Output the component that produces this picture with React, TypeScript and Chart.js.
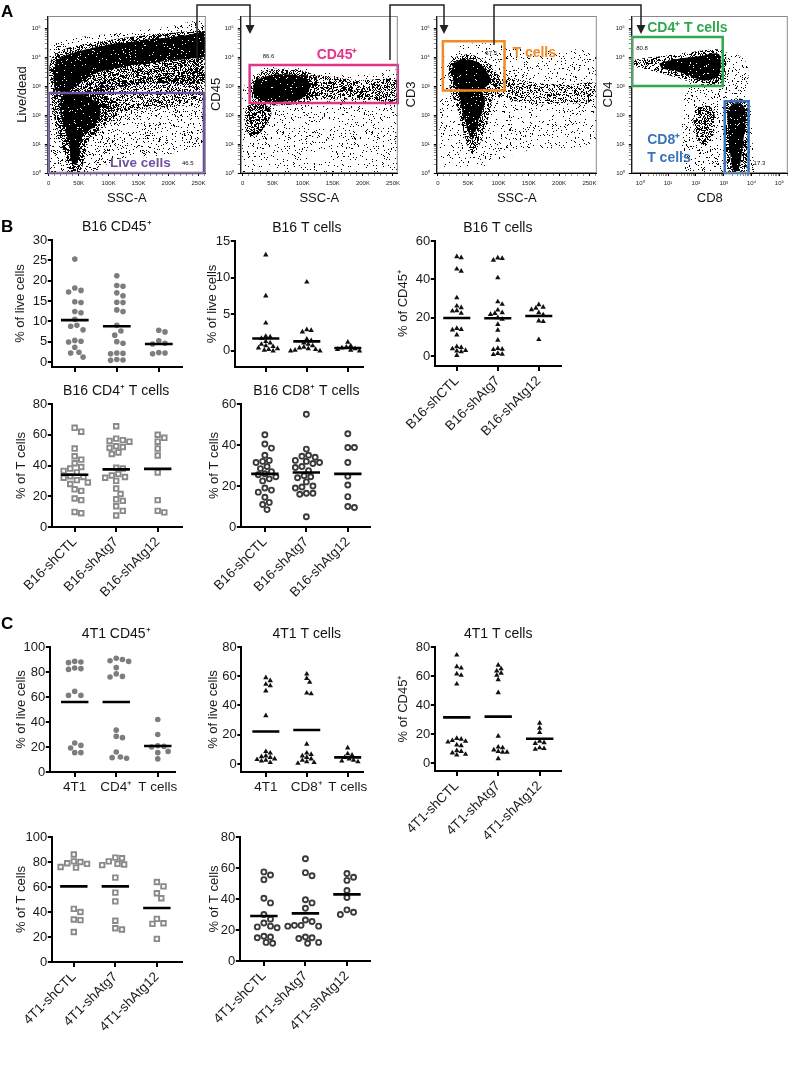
import React, { useEffect, useRef } from "react";
import { Chart, registerables } from "chart.js";

Chart.register(...registerables);

const FONT = '"Liberation Sans", Arial, Helvetica, sans-serif';
Chart.defaults.font.family = FONT;

type Pt = [number, number];

// ================= Panel A : flow cytometry (data units: SSC-A linear, fluorescence log) =================
// Plot 1 : Live/dead vs SSC-A
const f1Sparse: Pt[] = [[2000, 1], [2000, 17400], [29000, 39000], [113000, 66000], [196000, 110000], [262000, 150000], [262000, 14], [229000, 6.2], [168000, 3.6], [113000, 2.8], [74000, 1]];
const f1DeadMedium: Pt[] = [[2000, 2100], [2000, 6000], [13000, 13500], [40000, 23000], [85000, 34000], [140000, 50000], [196000, 66000], [240000, 80000], [262000, 85000], [262000, 1600], [229000, 1230], [185000, 1230], [140000, 1080], [107000, 720], [85000, 430], [63000, 330], [40000, 330], [18000, 430], [4000, 720]];
const f1GateBand: Pt[] = [[74000, 950], [140000, 1600], [196000, 2400], [262000, 4000], [262000, 330], [196000, 195], [140000, 150], [96000, 115], [74000, 195]];
const f1LiveMedium: Pt[] = [[7000, 430], [29000, 720], [63000, 720], [96000, 430], [118000, 195], [107000, 67], [85000, 30], [68000, 14], [60000, 3.6], [52000, 1.1], [37000, 1.1], [27000, 3.6], [18000, 18], [10000, 67], [4000, 195]];
const f1DeadDense: Pt[] = [[7000, 3550], [15000, 7900], [29000, 11700], [57000, 17400], [85000, 23000], [113000, 30000], [140000, 34000], [168000, 41000], [196000, 47000], [229000, 57000], [262000, 66000], [262000, 11700], [240000, 9000], [207000, 7900], [168000, 6000], [140000, 5300], [113000, 4000], [85000, 3100], [63000, 1850], [46000, 950], [29000, 640], [10000, 720]];
const f1LiveDense: Pt[] = [[21000, 430], [37000, 560], [57000, 490], [74000, 330], [85000, 195], [85000, 87], [77000, 40], [63000, 26], [54000, 14], [52000, 4.8], [45000, 1.9], [37000, 2.8], [35000, 8], [29000, 23], [22000, 67], [18000, 195]];
const liveGate = [0, 259000, 1, 580];

// Plot 2 : CD45 vs SSC-A
const f2Sparse: Pt[] = [[0, 1], [0, 560], [18000, 2750], [50000, 4600], [123000, 3550], [206000, 2400], [258000, 3100], [258000, 1]];
const f2NegCloud: Pt[] = [[6000, 195], [23000, 290], [40000, 220], [48000, 115], [40000, 51], [28000, 23], [14000, 18], [6000, 30], [3000, 87]];
const f2Tail: Pt[] = [[95000, 2400], [140000, 2200], [195000, 1600], [258000, 1600], [258000, 330], [206000, 330], [150000, 350], [107000, 330]];
const f2Halo: Pt[] = [[9000, 720], [20000, 2100], [40000, 3550], [78000, 4000], [107000, 3100], [123000, 1850], [123000, 430], [95000, 250], [40000, 220], [18000, 330]];
const f2Dense: Pt[] = [[17000, 720], [21000, 1400], [37000, 2100], [57000, 2500], [78000, 2500], [95000, 2200], [107000, 1600], [112000, 950], [105000, 490], [92000, 330], [67000, 290], [40000, 290], [21000, 380]];
const cd45Gate = [11700, 258000, 260, 5300];

// Plot 3 : CD3 vs SSC-A
const f3Sparse: Pt[] = [[4000, 1.65], [4000, 4600], [23000, 17400], [67000, 30000], [151000, 17400], [262000, 10200], [262000, 14], [151000, 6.2], [73000, 1.65]];
const f3Tail: Pt[] = [[90000, 2750], [151000, 1400], [206000, 1080], [262000, 1230], [262000, 330], [206000, 250], [151000, 250], [95000, 430]];
const f3Halo: Pt[] = [[17000, 2750], [23000, 7900], [40000, 11700], [67000, 10200], [90000, 4600], [101000, 1600], [90000, 330], [84000, 87], [76000, 23], [67000, 8], [56000, 4.8], [48000, 10.5], [40000, 40], [31000, 195], [20000, 720]];
const f3DenseT: Pt[] = [[22000, 3100], [27000, 6000], [40000, 8600], [56000, 7900], [70000, 5800], [81000, 3100], [87000, 1600], [78000, 900], [62000, 640], [40000, 690], [27000, 1080]];
const f3DenseNeg: Pt[] = [[37000, 720], [67000, 760], [77000, 430], [75000, 150], [67000, 67], [62000, 26], [57000, 14], [52000, 20], [46000, 51], [40000, 150], [35000, 380]];
const tGate = [8300, 110000, 700, 35000];

// Plot 4 : CD4 vs CD8
const f4Sparse: Pt[] = [[40, 1], [30, 23], [53, 950], [830, 13500], [5600, 7900], [8100, 950], [12800, 1]];
const f4Cd4Halo: Pt[] = [[0.57, 7900], [1.97, 9600], [10.2, 11700], [92, 15500], [480, 18500], [1090, 15500], [1200, 3550], [950, 1400], [210, 1080], [40, 1600], [5.9, 2750], [0.57, 4600]];
const f4DnCloud: Pt[] = [[92, 150], [210, 220], [420, 150], [480, 40], [365, 14], [185, 9], [105, 18], [80, 51]];
const f4Cd8Halo: Pt[] = [[1260, 290], [3240, 380], [7400, 250], [8800, 40], [7400, 6.2], [5600, 1.1], [1640, 1.1], [1150, 8], [1000, 67]];
const f4Cd4Dense: Pt[] = [[4.8, 6000], [13.5, 7900], [53, 9600], [210, 11700], [480, 13500], [720, 11700], [780, 4600], [670, 2400], [365, 1700], [160, 1600], [70, 2100], [23, 3100], [5.9, 4000]];
const f4Cd8Dense: Pt[] = [[1640, 195], [2460, 250], [4300, 240], [5900, 150], [5900, 40], [4900, 10.5], [4300, 3.6], [3450, 1.4], [2460, 1.1], [1870, 2.2], [1640, 8], [1420, 40], [1340, 115]];
const cd4Gate = [0.52, 920, 1000, 49000];
const cd8Gate = [1090, 7800, 1, 300];

// ================= Panels B / C : dot plots =================
const b16Groups = ["B16-shCTL", "B16-shAtg7", "B16-shAtg12"];
const t41Groups = ["4T1-shCTL", "4T1-shAtg7", "4T1-shAtg12"];
const c1Labels = ["4T1", "CD4⁺", "T cells"];
const c2Labels = ["4T1", "CD8⁺", "T cells"];
const noLabels = ["", "", ""];

// B16 CD45+ (% of live cells)
const b16Cd45Ctl = [25.3, 18.2, 17.6, 17.2, 14.8, 14.6, 12.4, 12.1, 10.5, 9.0, 8.8, 7.9, 5.3, 5.1, 4.9, 3.6, 2.4, 2.2, 1.2];
const b16Cd45Atg7 = [21.2, 18.8, 18.6, 17.0, 16.3, 14.7, 14.6, 12.8, 12.4, 9.0, 7.6, 6.6, 5.0, 4.6, 2.2, 2.1, 2.0, 0.6, 0.5, 0.4];
const b16Cd45Atg12 = [7.8, 7.4, 5.2, 4.6, 4.4, 2.3, 2.2, 2.0];
const b16Cd45Means = [10.3, 8.8, 4.4];

// B16 T cells (% of live cells)
const b16TLiveCtl = [13.1, 7.5, 3.8, 2.0, 1.9, 1.7, 1.3, 1.1, 0.9, 0.7, 0.6, 0.4, 0.3, 0.2, 0.1, 0.0];
const b16TLiveAtg7 = [9.4, 2.9, 2.8, 2.6, 1.6, 1.4, 1.1, 0.9, 0.7, 0.5, 0.4, 0.3, 0.2, 0.1, 0.0, 0.0];
const b16TLiveAtg12 = [1.2, 0.7, 0.5, 0.4, 0.3, 0.2, 0.1, 0.0];
const b16TLiveMeans = [1.7, 1.3, 0.4];

// B16 T cells (% of CD45+)
const b16TCd45Ctl = [51.8, 51.3, 45.4, 44.3, 30.4, 26.1, 25.2, 23.7, 23.5, 22.3, 14.4, 13.9, 13.6, 11.0, 4.9, 4.5, 3.8, 2.9, 2.6, 2.2, 0.3];
const b16TCd45Atg7 = [51.2, 50.9, 50.0, 40.8, 28.3, 27.0, 24.0, 22.6, 22.2, 21.7, 20.0, 19.2, 16.5, 13.5, 8.3, 4.0, 3.6, 3.4, 1.4, 1.0, 0.8];
const b16TCd45Atg12 = [26.8, 25.5, 25.0, 24.2, 22.6, 21.5, 18.3, 18.0, 8.6];
const b16TCd45Means = [19.8, 19.7, 20.9];

// B16 CD4+ T cells (% of T cells)
const b16Cd4Ctl = [64.5, 62.0, 51.0, 46.0, 43.8, 41.5, 39.0, 38.0, 36.5, 35.5, 33.0, 32.5, 32.0, 30.5, 29.0, 28.0, 24.5, 23.5, 18.5, 17.5, 9.8, 9.0];
const b16Cd4Atg7 = [65.5, 57.5, 56.5, 56.0, 55.5, 52.5, 52.0, 51.5, 48.5, 47.5, 38.5, 38.0, 34.5, 33.5, 32.5, 32.0, 30.0, 25.0, 21.5, 18.0, 17.0, 13.5, 10.5, 7.5];
const b16Cd4Atg12 = [60.0, 58.0, 55.5, 51.0, 46.5, 35.5, 17.5, 10.5, 9.5];
const b16Cd4Means = [34.0, 37.5, 37.8];

// B16 CD8+ T cells (% of T cells)
const b16Cd8Ctl = [45.0, 40.5, 38.5, 35.0, 32.5, 32.0, 31.5, 29.5, 28.5, 27.0, 26.0, 25.5, 24.5, 23.5, 22.5, 19.0, 18.0, 17.0, 14.5, 12.0, 11.0, 8.5];
const b16Cd8Atg7 = [55.0, 38.0, 35.0, 34.5, 34.0, 32.5, 32.0, 31.5, 31.0, 29.5, 29.0, 27.5, 25.0, 24.5, 24.0, 22.0, 20.0, 19.5, 19.0, 16.5, 16.5, 16.0, 5.0];
const b16Cd8Atg12 = [45.5, 38.8, 38.8, 31.5, 24.8, 20.5, 14.8, 10.0, 9.5];
const b16Cd8Means = [25.9, 26.6, 25.9];

// 4T1 CD45+ (% of live cells)
const t41Cd45Ctl = [88.5, 88.0, 87.5, 83.2, 82.7, 82.1, 64.5, 61.3, 61.3, 23.2, 21.3, 19.2, 15.5, 15.5];
const t41Cd45Atg7 = [91.0, 90.0, 89.0, 88.5, 83.5, 78.5, 76.5, 76.0, 33.5, 28.5, 27.5, 16.0, 12.0, 11.5, 11.0];
const t41Cd45Atg12 = [42.0, 30.0, 21.0, 20.5, 20.0, 16.5, 15.5, 10.5];
const t41Cd45Means = [56.0, 56.0, 20.8];

// 4T1 T cells (% of live cells)
const t41TLiveCtl = [59.0, 57.0, 54.5, 53.5, 50.0, 33.0, 8.5, 7.5, 5.5, 5.0, 4.5, 3.5, 3.0, 2.5, 2.0, 1.0];
const t41TLiveAtg7 = [61.5, 58.5, 56.0, 48.5, 48.0, 13.5, 7.5, 6.5, 5.5, 4.5, 3.5, 2.5, 1.5, 1.0, 0.5];
const t41TLiveAtg12 = [11.0, 7.0, 6.0, 4.5, 3.5, 2.5, 2.0, 1.5];
const t41TLiveMeans = [22.2, 23.2, 4.5];

// 4T1 T cells (% of CD45+)
const t41TCd45Ctl = [74.5, 66.5, 65.5, 61.5, 60.5, 54.5, 17.0, 16.5, 15.5, 15.0, 14.5, 12.5, 12.0, 8.5, 8.0, 7.0, 6.0, 5.5];
const t41TCd45Atg7 = [67.5, 65.0, 63.5, 62.0, 60.5, 57.5, 48.5, 18.5, 11.0, 10.5, 9.0, 8.0, 7.5, 7.5, 3.0];
const t41TCd45Atg12 = [27.5, 24.0, 21.0, 15.0, 14.0, 13.5, 10.5, 10.0, 9.5];
const t41TCd45Means = [31.5, 32.0, 16.7];

// 4T1 CD4+ T cells (% of T cells)
const t41Cd4Ctl = [86.0, 80.5, 80.0, 79.0, 78.5, 76.0, 75.5, 42.5, 40.0, 34.0, 33.5, 24.0];
const t41Cd4Atg7 = [83.5, 83.0, 80.5, 78.5, 78.0, 77.5, 67.5, 55.5, 48.5, 33.0, 27.0, 26.0];
const t41Cd4Atg12 = [64.0, 60.5, 55.0, 51.0, 34.5, 31.0, 30.5, 18.5];
const t41Cd4Means = [60.5, 60.5, 43.2];

// 4T1 CD8+ T cells (% of T cells)
const t41Cd8Ctl = [57.5, 55.5, 52.5, 40.5, 37.5, 30.0, 27.0, 24.5, 22.5, 22.0, 21.5, 16.0, 15.5, 15.0, 12.0, 11.5];
const t41Cd8Atg7 = [66.0, 57.0, 55.0, 39.5, 37.5, 34.0, 26.5, 25.5, 23.0, 23.0, 22.5, 22.5, 15.5, 15.0, 14.5, 12.0, 11.5];
const t41Cd8Atg12 = [56.5, 54.0, 52.0, 45.5, 41.0, 33.0, 31.5, 30.0];
const t41Cd8Means = [29.0, 30.7, 43.0];

// ================= styles =================
const PURPLE = "#6f4f9e";
const PINK = "#e2358a";
const ORANGE = "#f48a24";
const GREEN = "#2fa84f";
const BLUE = "#3a74bd";

const SUP = "⁰¹²³⁴⁵⁶⁷⁸⁹";
const sup = (n: number) => String(n).split("").map((d) => SUP[+d]).join("");

function hashPattern(density: number, seed: number): CanvasPattern | string {
  if (density >= 1) return "#000";
  const n = 89;
  const c = document.createElement("canvas");
  c.width = n;
  c.height = n;
  const g = c.getContext("2d")!;
  const img = g.createImageData(n, n);
  for (let i = 0; i < n * n; i++) {
    let h = Math.imul(i + 1, 0x9e3779b1) ^ Math.imul(seed + 7, 0x85ebca6b);
    h ^= h >>> 15;
    h = Math.imul(h, 0x2c1b3c6d);
    h ^= h >>> 12;
    h = Math.imul(h, 0x297a2d39);
    h ^= h >>> 15;
    const u = (h >>> 0) / 4294967296;
    img.data[i * 4 + 3] = u < density ? 255 : 0;
  }
  g.putImageData(img, 0, 0);
  return g.createPattern(c, "repeat")!;
}

type Layer = { poly: Pt[]; density: number };
type Gate = { rect: number[]; color: string };
type Lab = { text: string; x: number; y: number; color?: string; size: number; bold?: boolean; align?: CanvasTextAlign };
type FlowSpec = {
  l: number; t: number; r: number; b: number;
  yTitleX: number; xTitleY: number;
  xLog: boolean; xMin: number; xMax: number;
  xTitle: string; yTitle: string;
  layers: Layer[]; gates: Gate[]; labels: Lab[];
};

function logTicks(min: number, max: number) {
  const out: any[] = [];
  for (let e = 0; e <= 5; e++) {
    for (let m = 1; m <= 9; m++) {
      const v = m * Math.pow(10, e);
      if (v >= min && v <= max) out.push({ value: v, major: m === 1, exp: e });
    }
  }
  return out;
}
function linTicks(max: number) {
  const out: any[] = [];
  for (let v = 0; v <= max; v += 10000) out.push({ value: v, major: v % 50000 === 0 });
  return out;
}

const flowSpecs: FlowSpec[] = [
  {
    l: 48, t: 16, r: 206, b: 173, yTitleX: 23, xTitleY: 198, xLog: false, xMin: -1500, xMax: 262144,
    xTitle: "SSC-A", yTitle: "Live/dead",
    layers: [
      { poly: f1Sparse, density: 0.11 }, { poly: f1DeadMedium, density: 0.45 }, { poly: f1GateBand, density: 0.3 },
      { poly: f1LiveMedium, density: 0.5 }, { poly: f1DeadDense, density: 0.92 }, { poly: f1LiveDense, density: 0.93 },
    ],
    gates: [{ rect: liveGate, color: PURPLE }],
    labels: [
      { text: "Live cells", x: 153000, y: 2.2, color: PURPLE, size: 13.5, bold: true },
      { text: "46.5", x: 232000, y: 2.2, size: 6 },
    ],
  },
  {
    l: 241, t: 16, r: 398, b: 173, yTitleX: 217, xTitleY: 198, xLog: false, xMin: -3000, xMax: 258000,
    xTitle: "SSC-A", yTitle: "CD45",
    layers: [
      { poly: f2Sparse, density: 0.06 }, { poly: f2NegCloud, density: 0.55 }, { poly: f2Tail, density: 0.4 },
      { poly: f2Halo, density: 0.45 }, { poly: f2Dense, density: 0.95 },
    ],
    gates: [{ rect: cd45Gate, color: PINK }],
    labels: [
      { text: "86.6", x: 43000, y: 11000, size: 6 },
      { text: "CD45⁺", x: 157000, y: 11700, color: PINK, size: 14, bold: true },
    ],
  },
  {
    l: 437, t: 16, r: 597, b: 173, yTitleX: 412, xTitleY: 198, xLog: false, xMin: -1700, xMax: 262144,
    xTitle: "SSC-A", yTitle: "CD3",
    layers: [
      { poly: f3Sparse, density: 0.07 }, { poly: f3Tail, density: 0.3 }, { poly: f3Halo, density: 0.45 },
      { poly: f3DenseT, density: 0.95 }, { poly: f3DenseNeg, density: 0.92 },
    ],
    gates: [{ rect: tGate, color: ORANGE }],
    labels: [
      { text: "67.5", x: 88000, y: 13500, size: 6 },
      { text: "T cells", x: 159000, y: 13500, color: ORANGE, size: 14, bold: true },
    ],
  },
  {
    l: 632, t: 16, r: 788, b: 173, yTitleX: 609, xTitleY: 198, xLog: true, xMin: 0.5, xMax: 200000,
    xTitle: "CD8", yTitle: "CD4",
    layers: [
      { poly: f4Sparse, density: 0.08 }, { poly: f4Cd4Halo, density: 0.4 }, { poly: f4DnCloud, density: 0.45 },
      { poly: f4Cd8Halo, density: 0.45 }, { poly: f4Cd4Dense, density: 0.95 }, { poly: f4Cd8Dense, density: 0.95 },
    ],
    gates: [{ rect: cd4Gate, color: GREEN }, { rect: cd8Gate, color: BLUE }],
    labels: [
      { text: "80.8", x: 0.72, y: 20000, size: 6, align: "left" },
      { text: "CD4⁺ T cells", x: 1.78, y: 98000, color: GREEN, size: 14, bold: true, align: "left" },
      { text: "CD8⁺", x: 1.78, y: 14, color: BLUE, size: 14, bold: true, align: "left" },
      { text: "T cells", x: 1.78, y: 3.3, color: BLUE, size: 14, bold: true, align: "left" },
      { text: "17.3", x: 11800, y: 2.2, size: 6, align: "left" },
    ],
  },
];

function flowBox(s: FlowSpec) {
  const left = s.yTitleX - 7.8;
  const top = s.t - 6;
  const right = s.r + 6;
  const bottom = s.xTitleY + 7.8;
  return { left, top, width: Math.round(right - left), height: Math.round(bottom - top) };
}

function buildFlow(canvas: HTMLCanvasElement, s: FlowSpec): Chart {
  const box = flowBox(s);
  const datasets: any[] = [];
  s.layers.forEach((ly, i) => {
    datasets.push({
      type: "line",
      data: ly.poly.map(([x, y]) => ({ x, y })),
      showLine: true,
      fill: "shape",
      backgroundColor: hashPattern(ly.density, i * 31 + s.l),
      borderColor: "rgba(0,0,0,0)",
      borderWidth: 0,
      pointRadius: 0,
      tension: 0.35,
      order: 100 - i,
    });
  });
  s.gates.forEach((g) => {
    const [x0, x1, y0, y1] = g.rect;
    datasets.push({
      type: "line",
      data: [{ x: x0, y: y0 }, { x: x1, y: y0 }, { x: x1, y: y1 }, { x: x0, y: y1 }, { x: x0, y: y0 }],
      showLine: true,
      fill: false,
      borderColor: g.color,
      borderWidth: 2.5,
      borderCapStyle: "square",
      pointRadius: 0,
      tension: 0,
      clip: false,
      order: 0,
    });
  });
  const tickGrid = {
    display: true,
    drawOnChartArea: false,
    tickLength: 3,
    color: (c: any) => (c.tick && c.tick.major ? "#000" : "#444"),
    lineWidth: (c: any) => (c.tick && c.tick.major ? 1 : 0.6),
  };
  const frame = {
    id: "frame",
    afterDatasetsDraw(chart: any) {
      const { ctx, chartArea: a } = chart;
      ctx.save();
      ctx.strokeStyle = "#8a8a8a";
      ctx.lineWidth = 1;
      ctx.strokeRect(a.left + 0.5, a.top + 0.5, a.right - a.left - 1, a.bottom - a.top - 1);
      ctx.restore();
    },
  };
  const labels = {
    id: "gateLabels",
    afterDatasetsDraw(chart: any) {
      const { ctx } = chart;
      const xs = chart.scales.x, ys = chart.scales.y;
      ctx.save();
      s.labels.forEach((lb) => {
        ctx.font = `${lb.bold ? "bold " : ""}${lb.size}px ${FONT}`;
        ctx.fillStyle = lb.color || "#111";
        ctx.textAlign = lb.align || "center";
        ctx.textBaseline = "middle";
        ctx.fillText(lb.text, xs.getPixelForValue(lb.x), ys.getPixelForValue(lb.y));
      });
      ctx.restore();
    },
  };
  return new Chart(canvas, {
    type: "scatter",
    data: { datasets },
    options: {
      responsive: false,
      animation: false,
      devicePixelRatio: 1,
      events: [],
      layout: { padding: { top: s.t - box.top, right: box.left + box.width - s.r, left: 0, bottom: 0 } },
      plugins: { legend: { display: false }, tooltip: { enabled: false } },
      scales: {
        x: {
          type: s.xLog ? "logarithmic" : "linear",
          min: s.xMin,
          max: s.xMax,
          afterBuildTicks: (sc: any) => {
            sc.ticks = s.xLog ? logTicks(s.xMin, s.xMax) : linTicks(s.xMax);
          },
          afterFit: (sc: any) => {
            sc.height = box.top + box.height - s.b;
            sc.paddingLeft = 0;
            sc.paddingRight = 0;
          },
          ticks: {
            autoSkip: false,
            maxRotation: 0,
            minRotation: 0,
            padding: 4,
            color: "#222",
            font: { size: 6, family: FONT },
            callback: function (v: any, i: number, ticks: any[]) {
              const t = ticks[i];
              if (!t || !t.major) return "";
              if (s.xLog) return "10" + sup(t.exp);
              return v === 0 ? "0" : Math.round(v / 1000) + "K";
            },
          },
          grid: tickGrid,
          border: { display: true, color: "#000", width: 1 },
          title: { display: true, text: s.xTitle, color: "#111", font: { size: 13, family: FONT }, padding: 0 },
        },
        y: {
          type: "logarithmic",
          min: 1,
          max: 262144,
          afterBuildTicks: (sc: any) => {
            sc.ticks = logTicks(1, 262144);
          },
          afterFit: (sc: any) => {
            sc.width = s.l - box.left;
            sc.paddingTop = 0;
            sc.paddingBottom = 0;
          },
          ticks: {
            autoSkip: false,
            padding: 4,
            color: "#222",
            font: { size: 6, family: FONT },
            callback: function (v: any, i: number, ticks: any[]) {
              const t = ticks[i];
              return t && t.major ? "10" + sup(t.exp) : "";
            },
          },
          grid: tickGrid,
          border: { display: true, color: "#000", width: 1 },
          title: { display: true, text: s.yTitle, color: "#111", font: { size: 13, family: FONT }, padding: 0 },
        },
      },
    } as any,
    plugins: [frame, labels],
  } as any);
}

// ================= dot plots =================
type Marker = "gray" | "tri" | "sq" | "circ";
type DotSpec = {
  l: number; t: number; r: number; b: number;
  yMin: number; yMax: number; step: number;
  xMin: number; xMax: number;
  yTitleX: number; bottom: number;
  title?: string; yTitle: string;
  xLabels: string[]; rotate: boolean;
  groups: number[][]; means: number[];
  marker: Marker;
};

const dotSpecs: DotSpec[] = [
  { l: 52, t: 240, r: 182, b: 367, yMin: -1.24, yMax: 30, step: 5, xMin: -0.548, xMax: 2.548, yTitleX: 21, bottom: 378, title: "B16 CD45⁺", yTitle: "% of live cells", xLabels: noLabels, rotate: false, groups: [b16Cd45Ctl, b16Cd45Atg7, b16Cd45Atg12], means: b16Cd45Means, marker: "gray" },
  { l: 235, t: 241, r: 363, b: 367, yMin: -2.2, yMax: 15, step: 5, xMin: -0.756, xMax: 2.366, yTitleX: 213, bottom: 378, title: "B16 T cells", yTitle: "% of live cells", xLabels: noLabels, rotate: false, groups: [b16TLiveCtl, b16TLiveAtg7, b16TLiveAtg12], means: b16TLiveMeans, marker: "tri" },
  { l: 435, t: 241, r: 561, b: 366, yMin: -5.2, yMax: 60, step: 20, xMin: -0.537, xMax: 2.537, yTitleX: 404, bottom: 450, title: "B16 T cells", yTitle: "% of CD45⁺", xLabels: b16Groups, rotate: true, groups: [b16TCd45Ctl, b16TCd45Atg7, b16TCd45Atg12], means: b16TCd45Means, marker: "tri" },
  { l: 52, t: 404, r: 182, b: 527, yMin: 0, yMax: 80, step: 20, xMin: -0.55, xMax: 2.58, yTitleX: 22, bottom: 612, title: "B16 CD4⁺ T cells", yTitle: "% of T cells", xLabels: b16Groups, rotate: true, groups: [b16Cd4Ctl, b16Cd4Atg7, b16Cd4Atg12], means: b16Cd4Means, marker: "sq" },
  { l: 241, t: 404, r: 370, b: 527, yMin: 0, yMax: 60, step: 20, xMin: -0.58, xMax: 2.53, yTitleX: 215, bottom: 612, title: "B16 CD8⁺ T cells", yTitle: "% of T cells", xLabels: b16Groups, rotate: true, groups: [b16Cd8Ctl, b16Cd8Atg7, b16Cd8Atg12], means: b16Cd8Means, marker: "circ" },
  { l: 50, t: 647, r: 175, b: 772, yMin: 0, yMax: 100, step: 20, xMin: -0.6, xMax: 2.41, yTitleX: 22, bottom: 800, title: "4T1 CD45⁺", yTitle: "% of live cells", xLabels: c1Labels, rotate: false, groups: [t41Cd45Ctl, t41Cd45Atg7, t41Cd45Atg12], means: t41Cd45Means, marker: "gray" },
  { l: 241.5, t: 647, r: 363, b: 772, yMin: -5.5, yMax: 80, step: 20, xMin: -0.6, xMax: 2.37, yTitleX: 214, bottom: 800, title: "4T1 T cells", yTitle: "% of live cells", xLabels: c2Labels, rotate: false, groups: [t41TLiveCtl, t41TLiveAtg7, t41TLiveAtg12], means: t41TLiveMeans, marker: "tri" },
  { l: 435, t: 647, r: 561, b: 771, yMin: -5.5, yMax: 80, step: 20, xMin: -0.53, xMax: 2.51, yTitleX: 404, bottom: 857, title: "4T1 T cells", yTitle: "% of CD45⁺", xLabels: t41Groups, rotate: true, groups: [t41TCd45Ctl, t41TCd45Atg7, t41TCd45Atg12], means: t41TCd45Means, marker: "tri" },
  { l: 52, t: 837, r: 182, b: 962, yMin: 0, yMax: 100, step: 20, xMin: -0.53, xMax: 2.6, yTitleX: 22, bottom: 1047, yTitle: "% of T cells", xLabels: t41Groups, rotate: true, groups: [t41Cd4Ctl, t41Cd4Atg7, t41Cd4Atg12], means: t41Cd4Means, marker: "sq" },
  { l: 240, t: 837, r: 370, b: 961, yMin: 0, yMax: 80, step: 20, xMin: -0.58, xMax: 2.55, yTitleX: 215, bottom: 1047, yTitle: "% of T cells", xLabels: t41Groups, rotate: true, groups: [t41Cd8Ctl, t41Cd8Atg7, t41Cd8Atg12], means: t41Cd8Means, marker: "circ" },
];

const markerStyle: Record<Marker, any> = {
  gray: { pointStyle: "circle", pointRadius: 2.8, backgroundColor: "#7d7d7d", borderColor: "#7d7d7d", borderWidth: 0 },
  tri: { pointStyle: "triangle", pointRadius: 3.1, backgroundColor: "#111", borderColor: "#111", borderWidth: 0 },
  sq: { pointStyle: "rect", pointRadius: 3.2, backgroundColor: "rgba(255,255,255,0)", borderColor: "#8a8a8a", borderWidth: 1.9 },
  circ: { pointStyle: "circle", pointRadius: 2.5, backgroundColor: "rgba(255,255,255,0)", borderColor: "#3b3b3b", borderWidth: 1.9 },
};
const markerDiam: Record<Marker, number> = { gray: 6.2, tri: 4.4, sq: 6.6, circ: 6.6 };

function dotBox(s: DotSpec) {
  const left = s.yTitleX - 7.8;
  const top = s.t - 32;
  const right = s.r + 12;
  return { left, top, width: Math.round(right - left), height: Math.round(s.bottom - top) };
}

function swarm(chart: Chart, groups: number[][], diam: number) {
  const xs: any = chart.scales.x, ys: any = chart.scales.y;
  const unit = xs.getPixelForValue(1) - xs.getPixelForValue(0);
  groups.forEach((vals, gi) => {
    const order = vals.map((_, i) => i).sort((a, b) => vals[b] - vals[a]);
    const placed: { dx: number; py: number }[] = [];
    const xOut: number[] = vals.map(() => gi);
    order.forEach((i) => {
      const py = ys.getPixelForValue(vals[i]);
      let dx = 0;
      for (let k = 0; k < 80; k++) {
        const c = k === 0 ? 0 : (k % 2 === 1 ? 1 : -1) * Math.ceil(k / 2) * (diam / 3);
        if (placed.every((p) => (p.dx - c) * (p.dx - c) + (p.py - py) * (p.py - py) >= diam * diam * 0.97)) {
          dx = c;
          break;
        }
      }
      placed.push({ dx, py });
      xOut[i] = gi + dx / unit;
    });
    (chart.data.datasets[gi] as any).data = vals.map((v, i) => ({ x: xOut[i], y: v }));
  });
  chart.update();
}

function buildDot(canvas: HTMLCanvasElement, s: DotSpec): Chart {
  const box = dotBox(s);
  const ms = markerStyle[s.marker];
  const datasets: any[] = s.groups.map((vals, gi) => ({
    data: vals.map((v) => ({ x: gi, y: v })),
    ...ms,
    order: 1,
  }));
  s.means.forEach((m, gi) => {
    datasets.push({
      type: "line",
      data: [{ x: gi - 0.33, y: m }, { x: gi + 0.33, y: m }],
      showLine: true,
      borderColor: "#000",
      borderWidth: 2.6,
      pointRadius: 0,
      fill: false,
      order: 0,
    });
  });
  const axisGrid = { display: true, drawOnChartArea: false, tickLength: 4, color: "#000", lineWidth: 2 };
  const titlePlugin = {
    id: "ptitle",
    afterDraw(chart: any) {
      if (!s.title) return;
      const { ctx } = chart;
      ctx.save();
      ctx.font = `14px ${FONT}`;
      ctx.fillStyle = "#111";
      ctx.textAlign = "center";
      ctx.textBaseline = "middle";
      ctx.fillText(s.title, chart.scales.x.getPixelForValue(1), chart.chartArea.top - 13);
      ctx.restore();
    },
  };
  const chart = new Chart(canvas, {
    type: "scatter",
    data: { datasets },
    options: {
      responsive: false,
      animation: false,
      devicePixelRatio: 1,
      events: [],
      layout: { padding: { top: s.t - box.top, right: box.left + box.width - s.r, left: 0, bottom: 0 } },
      plugins: { legend: { display: false }, tooltip: { enabled: false } },
      scales: {
        x: {
          type: "linear",
          min: s.xMin,
          max: s.xMax,
          afterBuildTicks: (sc: any) => {
            sc.ticks = [0, 1, 2].map((v) => ({ value: v }));
          },
          afterFit: (sc: any) => {
            sc.height = box.top + box.height - s.b;
            sc.paddingLeft = 0;
            sc.paddingRight = 0;
          },
          ticks: {
            autoSkip: false,
            minRotation: s.rotate ? 45 : 0,
            maxRotation: s.rotate ? 45 : 0,
            padding: 2,
            color: "#1a1a1a",
            font: { size: 13.5, family: FONT },
            callback: (v: any) => s.xLabels[Math.round(v)] ?? "",
          },
          grid: { ...axisGrid, tickLength: 5 },
          border: { display: true, color: "#000", width: 2 },
        },
        y: {
          type: "linear",
          min: s.yMin,
          max: s.yMax,
          afterBuildTicks: (sc: any) => {
            const arr: any[] = [];
            for (let v = 0; v <= s.yMax + 1e-9; v += s.step) arr.push({ value: v });
            sc.ticks = arr;
          },
          afterFit: (sc: any) => {
            sc.width = s.l - box.left;
            sc.paddingTop = 0;
            sc.paddingBottom = 0;
          },
          ticks: { autoSkip: false, padding: 0.5, color: "#1a1a1a", font: { size: 13, family: FONT } },
          grid: axisGrid,
          border: { display: true, color: "#000", width: 2 },
          title: { display: true, text: s.yTitle, color: "#1a1a1a", font: { size: 13, family: FONT }, padding: 0 },
        },
      },
    } as any,
    plugins: [titlePlugin],
  } as any);
  swarm(chart, s.groups, markerDiam[s.marker]);
  return chart;
}

function ChartCanvas({ box, build }: { box: { left: number; top: number; width: number; height: number }; build: (c: HTMLCanvasElement) => Chart }) {
  const ref = useRef<HTMLCanvasElement>(null);
  useEffect(() => {
    const ch = build(ref.current!);
    return () => ch.destroy();
  }, []);
  return (
    <canvas
      ref={ref}
      width={box.width}
      height={box.height}
      style={{ position: "absolute", left: box.left, top: box.top, width: box.width, height: box.height }}
    />
  );
}

const letterStyle: React.CSSProperties = {
  position: "absolute",
  left: 1,
  fontFamily: FONT,
  fontWeight: "bold",
  fontSize: 17,
  lineHeight: "17px",
  color: "#000",
};

export default function App() {
  return (
    <div style={{ position: "absolute", left: 0, top: 0, width: 791, height: 1067, background: "#fff", overflow: "hidden" }}>
      {flowSpecs.map((s, i) => (
        <ChartCanvas key={"f" + i} box={flowBox(s)} build={(c) => buildFlow(c, s)} />
      ))}
      {dotSpecs.map((s, i) => (
        <ChartCanvas key={"d" + i} box={dotBox(s)} build={(c) => buildDot(c, s)} />
      ))}
      <svg width={791} height={60} style={{ position: "absolute", left: 0, top: 0 }}>
        <g stroke="#222" strokeWidth={1.5} fill="none">
          <path d="M197 100 V5 H250 V27" />
          <path d="M390 73 V5 H444 V27" />
          <path d="M494 45 V5 H641 V27" />
        </g>
        <g fill="#222">
          <polygon points="245.5,25 254.5,25 250,34" />
          <polygon points="439.5,25 448.5,25 444,34" />
          <polygon points="636.5,25 645.5,25 641,34" />
        </g>
      </svg>
      <div style={{ ...letterStyle, top: 3 }}>A</div>
      <div style={{ ...letterStyle, top: 218 }}>B</div>
      <div style={{ ...letterStyle, top: 615 }}>C</div>
    </div>
  );
}
